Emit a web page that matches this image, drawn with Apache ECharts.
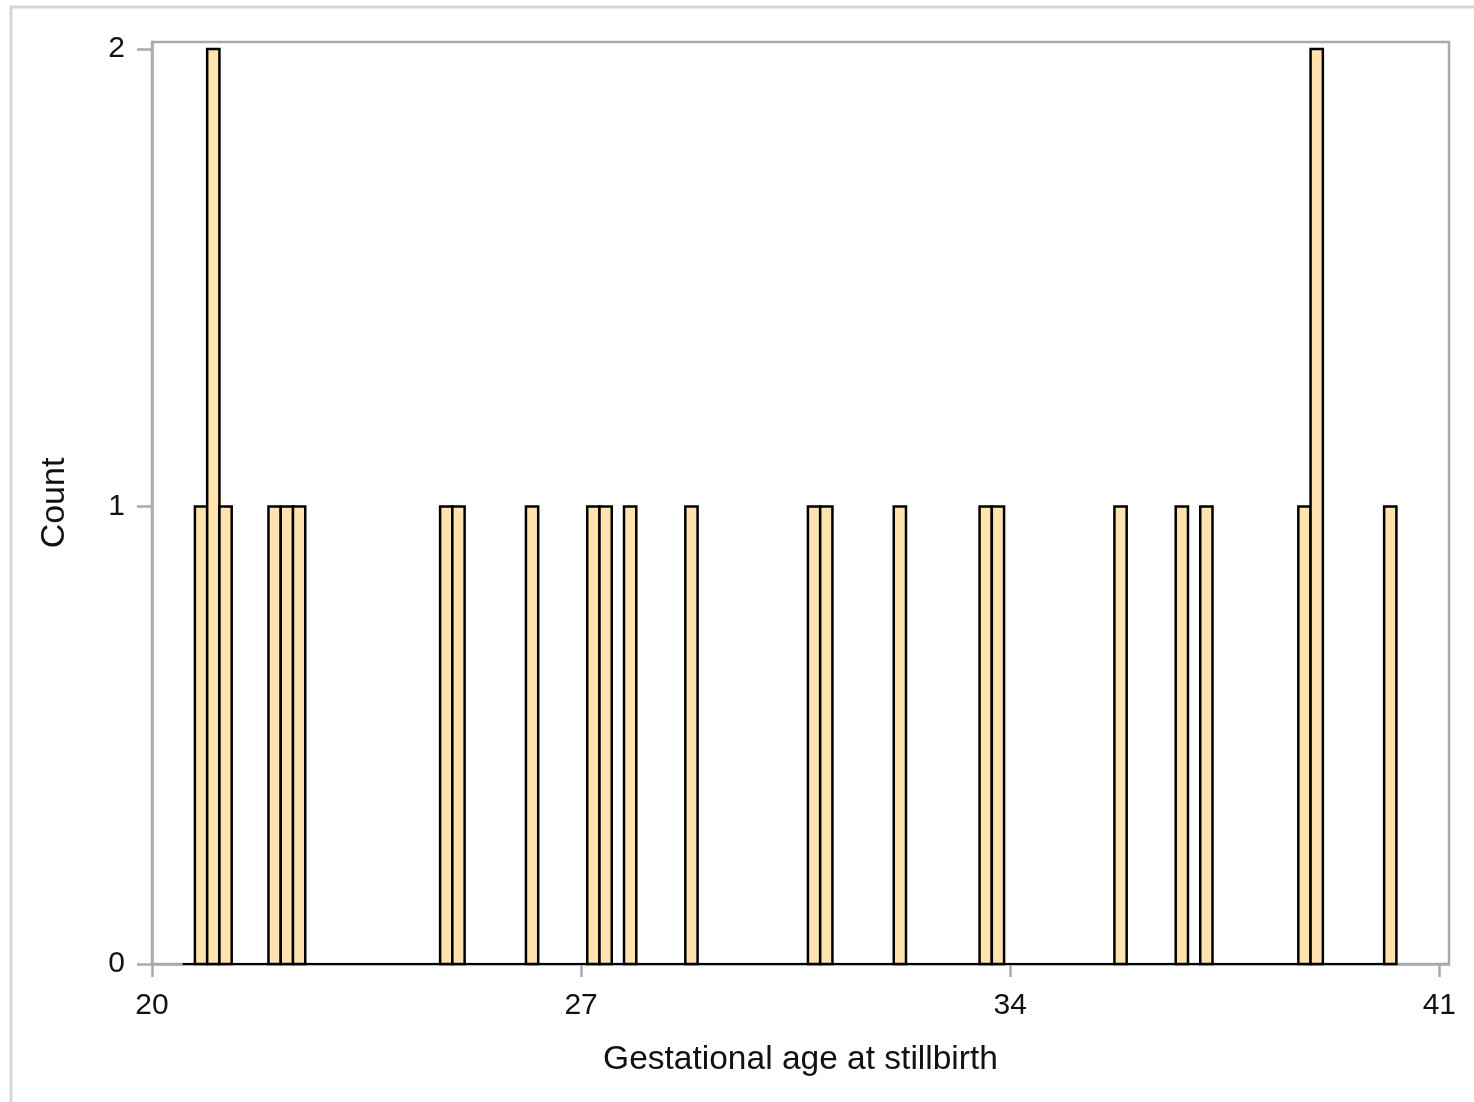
<!DOCTYPE html>
<html>
<head>
<meta charset="utf-8">
<style>
  html, body { margin: 0; padding: 0; background: #ffffff; }
  #chart { width: 1474px; height: 1102px; }
</style>
<script src="https://cdn.jsdelivr.net/npm/echarts@6/dist/echarts.min.js"></script>
</head>
<body>
<div id="chart"></div>
<script>
// Histogram bins (centers of non-empty bins) and their counts
const binCenters = [20.8, 21.0, 21.2, 22.0, 22.2, 22.4, 24.8, 25.0, 26.2, 27.2, 27.4, 27.8, 28.8,
                    30.8, 31.0, 32.2, 33.6, 33.8, 35.8, 36.8, 37.2, 38.8, 39.0, 40.2];
const counts     = [1, 2, 1, 1, 1, 1, 1, 1, 1, 1, 1, 1, 1,
                    1, 1, 1, 1, 1, 1, 1, 1, 1, 2, 1];
const binWidth = 0.2;
const histRange = [20.5, 40.3];
const xTicks = [20, 27, 34, 41];
const yTicks = [0, 1, 2];
const xTitle = 'Gestational age at stillbirth';
const yTitle = 'Count';

const FONT = "'Liberation Sans', Arial, Helvetica, sans-serif";
const AXIS_GREY = '#a6abb0';
const TEXT = '#111111';

const barData = binCenters.map((c, i) => [c, counts[i]]);
const baseData = [[histRange[0], 0], [histRange[1], 0]];

const chart = echarts.init(document.getElementById('chart'), null, { renderer: 'canvas' });

chart.setOption({
  backgroundColor: '#ffffff',
  animation: false,
  graphic: [{
    type: 'rect',
    silent: true,
    shape: { x: 11, y: 7, width: 1500, height: 1200 },
    style: { fill: 'none', stroke: '#d6d6d6', lineWidth: 3 },
    z: -10
  }],
  grid: {
    left: 152, right: 25, top: 42, bottom: 138,
    show: true,
    borderColor: AXIS_GREY,
    borderWidth: 2.5,
    backgroundColor: 'transparent'
  },
  xAxis: {
    type: 'value',
    min: 20,
    max: 41.158,
    name: xTitle,
    nameLocation: 'middle',
    nameGap: 79,
    nameTextStyle: { fontFamily: FONT, fontSize: 33.5, color: TEXT },
    axisLine: { show: true, onZero: false, lineStyle: { color: AXIS_GREY, width: 2.5 } },
    axisTick: { show: true, customValues: xTicks, length: 13, lineStyle: { color: AXIS_GREY, width: 2.5 } },
    axisLabel: { customValues: xTicks, fontFamily: FONT, fontSize: 30, color: TEXT, margin: 27 },
    splitLine: { show: false }
  },
  yAxis: {
    type: 'value',
    min: 0,
    max: 2.0153,
    name: yTitle,
    nameLocation: 'middle',
    nameGap: 80,
    nameRotate: 90,
    nameTextStyle: { fontFamily: FONT, fontSize: 34, color: TEXT },
    axisLine: { show: true, onZero: false, lineStyle: { color: AXIS_GREY, width: 2.5 } },
    axisTick: { show: true, customValues: yTicks, length: 15, lineStyle: { color: AXIS_GREY, width: 2.5 } },
    axisLabel: { customValues: yTicks, fontFamily: FONT, fontSize: 30, color: TEXT, margin: 27 },
    splitLine: { show: false }
  },
  series: [
    {
      type: 'line',
      data: baseData,
      symbol: 'none',
      lineStyle: { color: '#000000', width: 2 },
      z: 2,
      silent: true
    },
    {
      type: 'custom',
      data: barData,
      z: 3,
      renderItem: function (params, api) {
        const c = api.value(0);
        const v = api.value(1);
        const p0 = api.coord([c - binWidth / 2, v]);
        const p1 = api.coord([c + binWidth / 2, 0]);
        return {
          type: 'rect',
          shape: { x: p0[0], y: p0[1], width: p1[0] - p0[0], height: p1[1] - p0[1] },
          style: { fill: '#fee3ae', stroke: '#000000', lineWidth: 2.5 }
        };
      }
    }
  ]
});
</script>
</body>
</html>
